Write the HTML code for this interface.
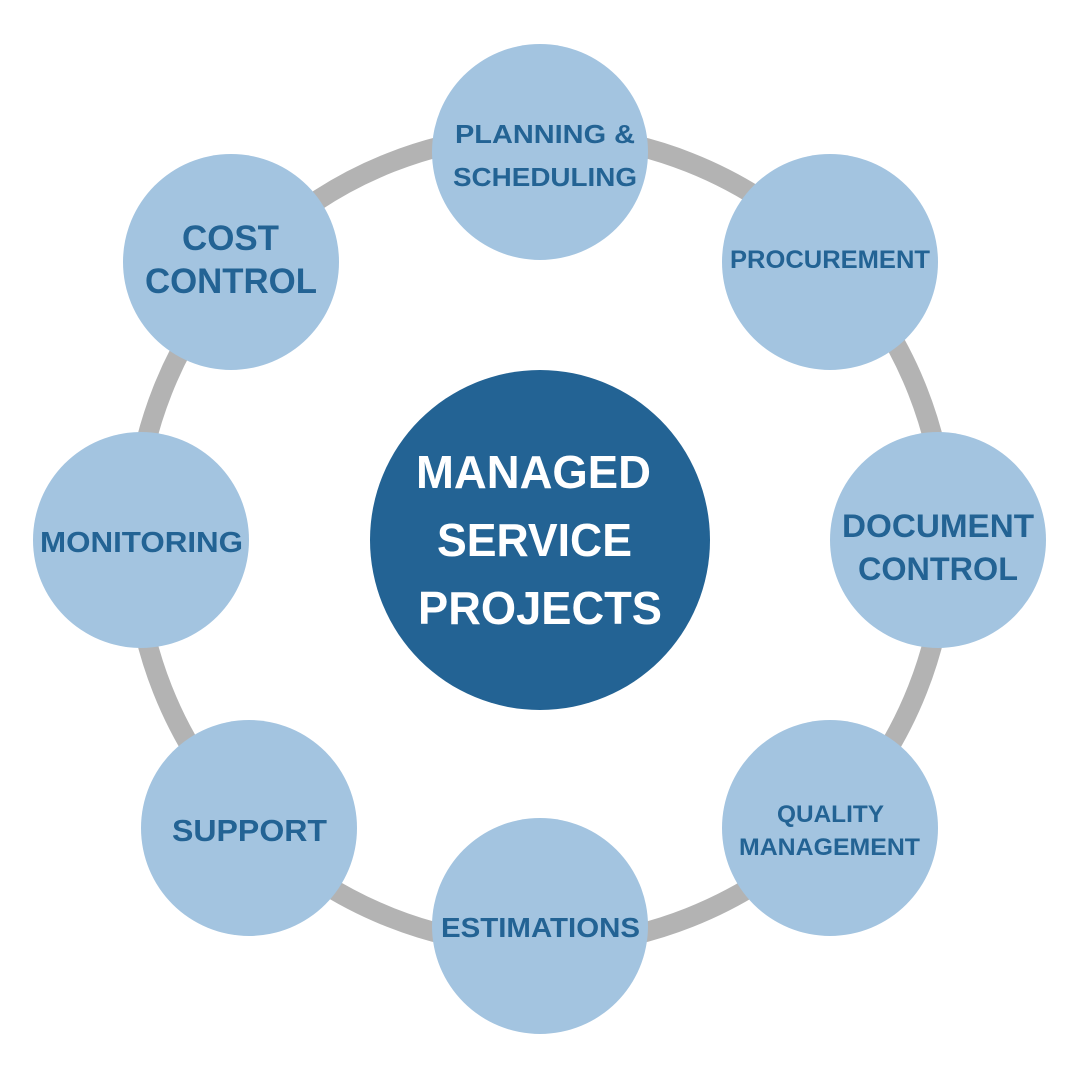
<!DOCTYPE html>
<html><head><meta charset="utf-8"><style>
html,body{margin:0;padding:0;background:#fff;}
svg{display:block;}
text{font-family:"Liberation Sans",sans-serif;font-weight:bold;}
.s{fill:#236394;}
.c{fill:#fff;}
</style></head><body>
<svg width="1080" height="1080" viewBox="0 0 1080 1080">
<circle cx="540" cy="540" r="406" fill="none" stroke="#b3b3b3" stroke-width="20"/>
<circle cx="540" cy="540" r="170" fill="#236394"/>
<g fill="#a3c4e0">
<circle cx="540" cy="152" r="108"/>
<circle cx="830" cy="262" r="108"/>
<circle cx="938" cy="540" r="108"/>
<circle cx="830" cy="828" r="108"/>
<circle cx="540" cy="926" r="108"/>
<circle cx="249" cy="828" r="108"/>
<circle cx="141" cy="540" r="108"/>
<circle cx="231" cy="262" r="108"/>
</g>
<g class="s">
<text x="455" y="143" font-size="26" textLength="180" lengthAdjust="spacingAndGlyphs">PLANNING &amp;</text>
<text x="453" y="186" font-size="26" textLength="184" lengthAdjust="spacingAndGlyphs">SCHEDULING</text>
<text x="730" y="268" font-size="25" textLength="200" lengthAdjust="spacingAndGlyphs">PROCUREMENT</text>
<text x="842" y="537" font-size="32" textLength="192" lengthAdjust="spacingAndGlyphs">DOCUMENT</text>
<text x="858" y="580" font-size="32" textLength="160" lengthAdjust="spacingAndGlyphs">CONTROL</text>
<text x="777" y="822" font-size="24" textLength="107" lengthAdjust="spacingAndGlyphs">QUALITY</text>
<text x="739" y="855" font-size="24" textLength="181" lengthAdjust="spacingAndGlyphs">MANAGEMENT</text>
<text x="441" y="937" font-size="28" textLength="199" lengthAdjust="spacingAndGlyphs">ESTIMATIONS</text>
<text x="172" y="841" font-size="31" textLength="155" lengthAdjust="spacingAndGlyphs">SUPPORT</text>
<text x="40" y="552" font-size="29" textLength="203" lengthAdjust="spacingAndGlyphs">MONITORING</text>
<text x="182" y="250" font-size="35" textLength="97" lengthAdjust="spacingAndGlyphs">COST</text>
<text x="145" y="293" font-size="35" textLength="172" lengthAdjust="spacingAndGlyphs">CONTROL</text>
</g>
<g class="c">
<text x="416" y="488" font-size="46" textLength="235" lengthAdjust="spacingAndGlyphs">MANAGED</text>
<text x="437" y="556" font-size="46" textLength="195" lengthAdjust="spacingAndGlyphs">SERVICE</text>
<text x="418" y="624" font-size="46" textLength="244" lengthAdjust="spacingAndGlyphs">PROJECTS</text>
</g>
</svg>
</body></html>
